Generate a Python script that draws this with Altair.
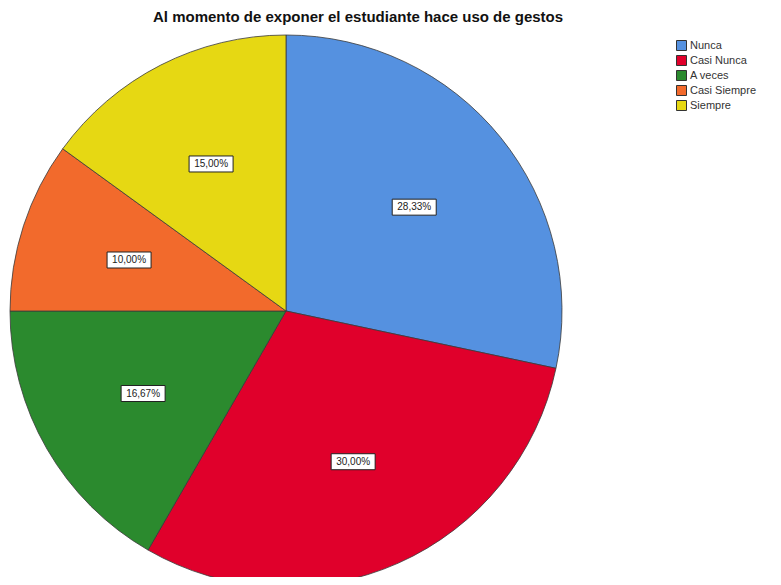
import altair as alt
import pandas as pd

categories = ["Nunca", "Casi Nunca", "A veces", "Casi Siempre", "Siempre"]
percents = [28.33, 30.00, 16.67, 10.00, 15.00]
colors = ["#5591e0", "#e0002b", "#2b8a2e", "#f26a2c", "#e6d813"]

labels = [f"{v:.2f}".replace(".", ",") + "%" for v in percents]
df = pd.DataFrame({"cat": categories, "value": percents, "idx": list(range(len(categories))), "label": labels})

CX, CY, R, RL = 278, 281, 276, 165
FONT = "Arial, Liberation Sans, sans-serif"

color = alt.Color("cat:N", scale=alt.Scale(domain=categories, range=colors), sort=categories,
                  legend=alt.Legend(title=None, orient="none", legendX=668, legendY=10,
                                    symbolType="square", symbolSize=100, symbolStrokeColor="#333",
                                    symbolStrokeWidth=1, labelFontSize=11, labelColor="#333",
                                    labelFont=FONT, rowPadding=0, symbolOpacity=1, labelOffset=3))

base = alt.Chart(df)

pie = base.mark_arc(radius=R, x=CX, y=CY, stroke="#3a3a3a", strokeWidth=0.8).encode(
    theta=alt.Theta("value:Q", stack=True),
    color=color,
    order=alt.Order("idx:Q"),
)

pos = base.transform_joinaggregate(total="sum(value)").transform_window(
    cum="sum(value)", sort=[alt.SortField("idx")]
).transform_calculate(
    mid="(datum.cum - datum.value/2)/datum.total*2*PI",
).transform_calculate(
    lx=f"{CX} + {RL}*sin(datum.mid)",
    ly=f"{CY} - {RL}*cos(datum.mid)",
).transform_calculate(
    bx1="datum.lx - 22", bx2="datum.lx + 22", by1="datum.ly - 8", by2="datum.ly + 8"
)

boxes = pos.mark_rect(fill="white", stroke="#222", strokeWidth=1).encode(
    x=alt.X("bx1:Q", scale=None), x2="bx2:Q",
    y=alt.Y("by1:Q", scale=None), y2="by2:Q",
)

texts = pos.mark_text(font=FONT, fontSize=10, color="#222").encode(
    x=alt.X("lx:Q", scale=None), y=alt.Y("ly:Q", scale=None), text="label:N"
)

chart = alt.layer(pie, boxes, texts).properties(
    width=765, height=547,
    title=alt.TitleParams("Al momento de exponer el estudiante hace uso de gestos",
                          font=FONT, fontSize=15, fontWeight="bold", color="#111",
                          anchor="start", dx=145, offset=5),
    autosize=alt.AutoSizeParams(type="none"),
    padding={"left": 0, "top": 22, "right": 0, "bottom": 0},
).configure_view(stroke=None)

chart.save("out.html", embed_options={"renderer": "svg", "actions": False})
